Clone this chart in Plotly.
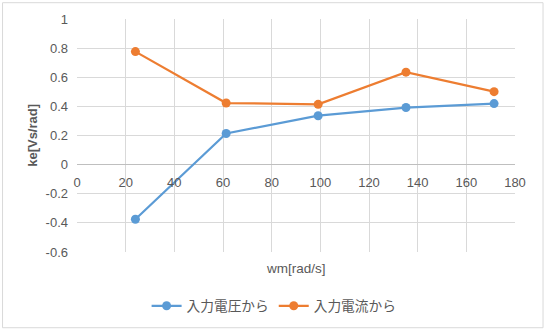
import plotly.graph_objects as go

x_vals = [24, 61.3, 99.1, 135.2, 171.4]
voltage_series = [-0.375, 0.214, 0.336, 0.392, 0.419]
current_series = [0.776, 0.423, 0.414, 0.635, 0.501]
series_names = ["入力電圧から", "入力電流から"]
x_title = "wm[rad/s]"
y_title = "ke[Vs/rad]"
y_ticks = [-0.6, -0.4, -0.2, 0, 0.2, 0.4, 0.6, 0.8, 1]
y_ticklabels = ["-0.6", "-0.4", "-0.2", "0", "0.2", "0.4", "0.6", "0.8", "1"]
x_ticks = [0, 20, 40, 60, 80, 100, 120, 140, 160, 180]

FONT = "Liberation Sans, Noto Sans CJK JP, sans-serif"
TXT = "#595959"
GRID = "#d9d9d9"

fig = go.Figure()
fig.add_trace(go.Scatter(x=x_vals, y=voltage_series, name=series_names[0],
                         mode="lines+markers",
                         line=dict(color="#5B9BD5", width=2.25),
                         marker=dict(color="#5B9BD5", size=9)))
fig.add_trace(go.Scatter(x=x_vals, y=current_series, name=series_names[1],
                         mode="lines+markers",
                         line=dict(color="#ED7D31", width=2.25),
                         marker=dict(color="#ED7D31", size=9)))

ymin, ymax = y_ticks[0], y_ticks[-1]
fig.update_layout(
    width=546, height=332,
    margin=dict(l=77, r=31, t=19, b=79),
    paper_bgcolor="white", plot_bgcolor="white",
    font=dict(family=FONT, size=13, color=TXT),
    showlegend=True,
    legend=dict(orientation="h", x=0.45, xanchor="center", y=-0.226, yanchor="middle",
                font=dict(size=13.7, color=TXT)),
    xaxis=dict(range=[x_ticks[0], x_ticks[-1]], tickvals=x_ticks,
               ticktext=[str(v) for v in x_ticks], showgrid=True, gridcolor=GRID,
               gridwidth=1, zeroline=False, showline=False, ticks="",
               anchor="free", position=(0 - ymin) / (ymax - ymin), automargin=False,
               tickfont=dict(size=13, color=TXT), ticklabelstandoff=8),
    yaxis=dict(range=[ymin, ymax], tickvals=y_ticks, ticktext=y_ticklabels,
               showgrid=True, gridcolor=GRID,
               gridwidth=1, zeroline=True, zerolinecolor="#bfbfbf", zerolinewidth=1,
               showline=False, ticks="", domain=[0, 1], automargin=False,
               tickfont=dict(size=13, color=TXT), ticklabelstandoff=8),
    annotations=[
        dict(text=x_title, xref="paper", yref="paper", x=0.5, y=-0.03,
             xanchor="center", yanchor="top", showarrow=False,
             font=dict(size=13.5, color=TXT, family=FONT)),
        dict(text="<b>" + y_title + "</b>", xref="paper", yref="paper", x=-0.102, y=0.5,
             xanchor="center", yanchor="middle", textangle=-90, showarrow=False,
             font=dict(size=13, color=TXT, family=FONT)),
    ],
    shapes=[
        dict(type="rect", xref="paper", yref="paper",
             x0=-0.170, x1=1.064, y0=-0.325, y1=1.07,
             line=dict(color="#d9d9d9", width=1), fillcolor="rgba(0,0,0,0)", layer="below"),
    ],
)

fig.write_html("out.html")
